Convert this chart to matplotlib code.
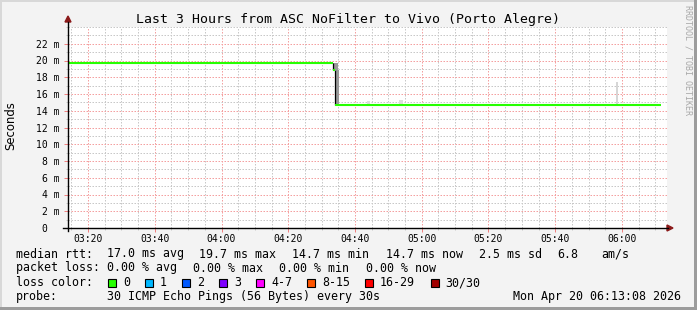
import matplotlib
matplotlib.use("Agg")
import matplotlib.pyplot as plt
from matplotlib.patches import Rectangle, Polygon
from matplotlib.lines import Line2D

# ---------------------------------------------------------
# data  (time = minutes after midnight, values in ms)
# ---------------------------------------------------------

median_time = [194.0, 273.4, 274.0, 371.7]
median_value = [19.7, 18.9, 14.7, 14.7]

smoke_start = [273.4, 274.3, 283.6, 293.1, 358.3]
smoke_end = [274.9, 275.2, 284.4, 294.3, 358.9]
smoke_low = [18.9, 14.7, 14.7, 14.7, 14.7]
smoke_high = [19.7, 18.9, 15.2, 15.3, 17.4]
smoke_color = ["#999999", "#999999", "#dedede", "#dedede", "#d6d6d6"]

x_ticks = [200, 220, 240, 260, 280, 300, 320, 340, 360]
x_labels = ["03:20", "03:40", "04:00", "04:20", "04:40",
            "05:00", "05:20", "05:40", "06:00"]
y_ticks = [0, 2, 4, 6, 8, 10, 12, 14, 16, 18, 20, 22]
y_labels = ["0  ", "2 m", "4 m", "6 m", "8 m", "10 m", "12 m",
            "14 m", "16 m", "18 m", "20 m", "22 m"]

rtt_items = ["17.0 ms avg", "19.7 ms max", "14.7 ms min",
             "14.7 ms now", "2.5 ms sd", "6.8", "am/s"]
loss_items = ["0.00 % avg", "0.00 % max", "0.00 % min", "0.00 % now"]
loss_labels = ["0", "1", "2", "3", "4-7", "8-15", "16-29", "30/30"]
loss_colors = ["#26ff00", "#00b8ff", "#0059ff", "#7e00ff",
               "#ff00ff", "#ff5500", "#ff0000", "#a10000"]

# ---------------------------------------------------------

W, H = 697, 310
MONO = "DejaVu Sans Mono"


def fx(px):
    return px / W


def fy(py):
    return 1 - py / H


fig = plt.figure(figsize=(W / 100, H / 100), dpi=100)
fig.patch.set_facecolor("#f3f3f3")

ax = fig.add_axes([fx(68), fy(228), 599 / W, 201 / H])
ax.set_facecolor("white")
ax.set_xlim(194.0, 373.5)
ax.set_ylim(0, 24)

# grid
ax.set_xticks(x_ticks)
ax.set_xticklabels(x_labels, fontfamily=MONO, fontsize=7)
ax.set_xticks(list(range(195, 374, 5)), minor=True)
ax.set_yticks(y_ticks)
ax.set_yticklabels(y_labels, fontfamily=MONO, fontsize=7)
ax.set_yticks(list(range(1, 25)), minor=True)

ax.grid(which="major", color="#f4a0a0", linestyle=(0, (1.5, 1.5)), linewidth=0.72)
ax.grid(which="minor", color="#c8c8c8", linestyle=(0, (1.5, 1.5)), linewidth=0.72)
ax.tick_params(which="major", length=2.9, width=0.72, color="#f08080", pad=1.5)
ax.tick_params(axis="y", which="major", pad=2.9)
ax.tick_params(which="minor", length=1.5, width=0.72, color="#c8c8c8")
for s in ax.spines.values():
    s.set_visible(False)

# smoke
for i in range(len(smoke_start)):
    ax.bar(smoke_start[i], smoke_high[i] - smoke_low[i], bottom=smoke_low[i],
           width=smoke_end[i] - smoke_start[i], align="edge",
           color=smoke_color[i], linewidth=0, zorder=3)

# median line
ax.vlines(median_time[1:-1], median_value[1:-1], median_value[:-2],
          color="black", linewidth=0.9, zorder=4)
ax.hlines(median_value[:-1], median_time[:-1], median_time[1:],
          color="#26ff00", linewidth=1.5, zorder=5)

# axes with arrows
fig.add_artist(Line2D([fx(63), fx(668)], [fy(228), fy(228)], color="black", lw=1.0))
fig.add_artist(Line2D([fx(68), fx(68)], [fy(231), fy(22)], color="black", lw=1.0))
fig.add_artist(Polygon([(fx(65), fy(22)), (fx(71), fy(22)), (fx(68), fy(16))],
                       closed=True, color="#8b1a1a"))
fig.add_artist(Polygon([(fx(667), fy(225)), (fx(667), fy(231)), (fx(673), fy(228))],
                       closed=True, color="#8b1a1a"))

# texts
fig.text(fx(348), fy(19), "Last 3 Hours from ASC NoFilter to Vivo (Porto Alegre)",
         fontfamily=MONO, fontsize=9.5, ha="center", va="center")
fig.text(fx(11), fy(126), "Seconds", fontfamily="DejaVu Sans", fontsize=8.4,
         rotation=90, ha="center", va="center")
fig.text(fx(688), fy(60), "RRDTOOL / TOBI OETIKER", fontfamily=MONO, fontsize=6,
         rotation=-90, ha="center", va="center", color="#a8a8a8")

rtt_x = [107, 199, 292, 386, 479, 557, 601]
loss_x = [107, 193, 279, 366]
box_x = [108, 145, 182, 219, 256, 307, 365, 431]
text_x = [123, 160, 197, 234, 271, 322, 380, 445]
lines_y = [257.5, 271.5, 286, 300]
FS = 8.4

fig.text(fx(16), fy(lines_y[0]), "median rtt:", fontfamily=MONO, fontsize=FS, va="baseline")
for t, x in zip(rtt_items, rtt_x):
    fig.text(fx(x), fy(lines_y[0]), t, fontfamily=MONO, fontsize=FS, va="baseline")

fig.text(fx(16), fy(lines_y[1]), "packet loss:", fontfamily=MONO, fontsize=FS, va="baseline")
for t, x in zip(loss_items, loss_x):
    fig.text(fx(x), fy(lines_y[1]), t, fontfamily=MONO, fontsize=FS, va="baseline")

fig.text(fx(16), fy(lines_y[2]), "loss color:", fontfamily=MONO, fontsize=FS, va="baseline")
for lab, col, bx, tx in zip(loss_labels, loss_colors, box_x, text_x):
    fig.add_artist(Rectangle((fx(bx), fy(287)), 8 / W, 8 / H,
                             facecolor=col, edgecolor="black", linewidth=0.8))
    fig.text(fx(tx), fy(lines_y[2]), lab, fontfamily=MONO, fontsize=FS, va="baseline")

fig.text(fx(16), fy(lines_y[3]), "probe:", fontfamily=MONO, fontsize=FS, va="baseline")
fig.text(fx(107), fy(lines_y[3]), "30 ICMP Echo Pings (56 Bytes) every 30s",
         fontfamily=MONO, fontsize=FS, va="baseline")
fig.text(fx(681), fy(lines_y[3]), "Mon Apr 20 06:13:08 2026",
         fontfamily=MONO, fontsize=FS, va="baseline", ha="right")

# 3d frame
fig.add_artist(Rectangle((0, 0), 2 / W, 1, color="#d8d8d8", lw=0))
fig.add_artist(Rectangle((0, 1 - 2 / H), 1, 2 / H, color="#d8d8d8", lw=0))
fig.add_artist(Rectangle((1 - 3 / W, 0), 3 / W, 1, color="#9c9c9c", lw=0))
fig.add_artist(Rectangle((0, 0), 1, 3 / H, color="#9c9c9c", lw=0))

plt.savefig("out.png", dpi=100)
